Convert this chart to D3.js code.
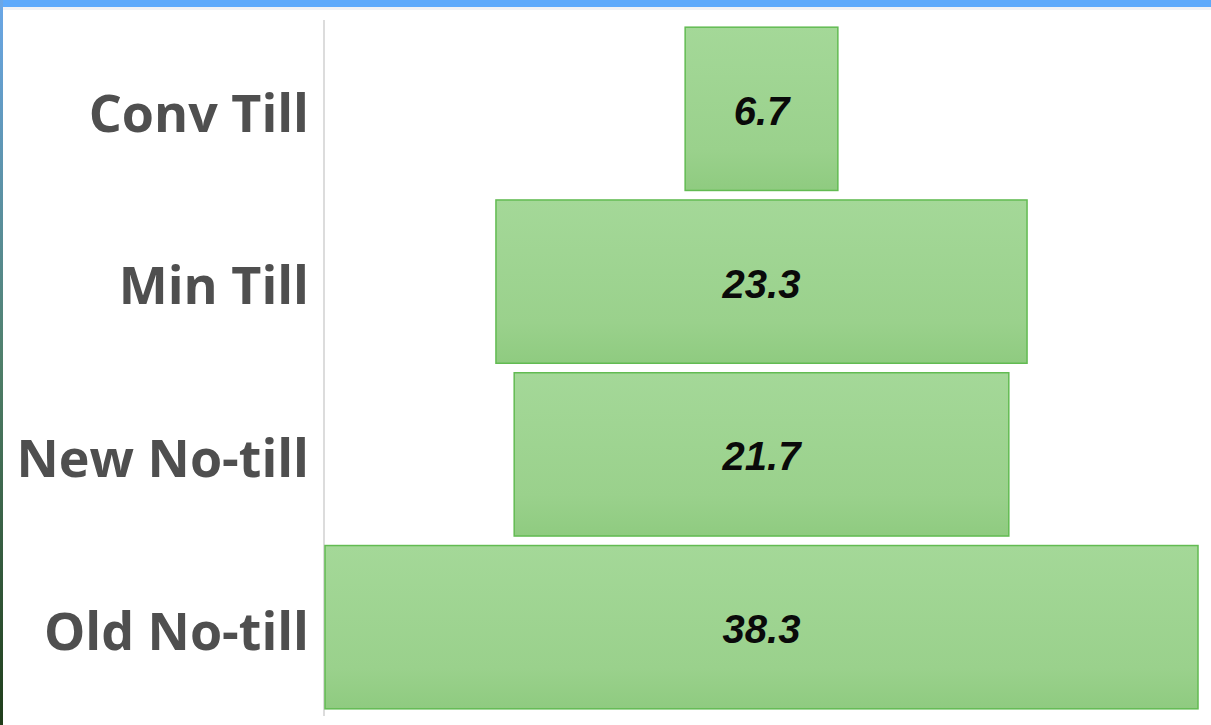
<!DOCTYPE html>
<html>
<head>
<script src="https://d3js.org/d3.v7.min.js"></script>
<style>
    body { margin: 0; padding: 0; background: #fff; }
    svg { display: block; }
</style>
</head>
<body>
<div id="chart"></div>
<script>
    // tillage systems, top to bottom
    let categories = ["Conv Till", "Min Till", "New No-till", "Old No-till"];
    let values = [6.7, 23.3, 21.7, 38.3];
    let valueLabels = ["6.7", "23.3", "21.7", "38.3"];

    let width = 1211, height = 725;

    let svg = d3.select("#chart").append("svg")
        .attr("width", width)
        .attr("height", height);

    let defs = svg.append("defs");
    let grad = defs.append("linearGradient").attr("id", "barFill")
        .attr("x1", 0).attr("y1", 0).attr("x2", 0).attr("y2", 1);
    grad.append("stop").attr("offset", "0%").attr("stop-color", "#a4d898");
    grad.append("stop").attr("offset", "75%").attr("stop-color", "#9ad18c");
    grad.append("stop").attr("offset", "100%").attr("stop-color", "#8fcb80");

    // frame: blue strip on top and a thin edge on the left
    svg.append("rect").attr("x", 0).attr("y", 0).attr("width", width).attr("height", 7)
        .attr("fill", "#5eaafb");
    svg.append("rect").attr("x", 0).attr("y", 7).attr("width", width).attr("height", 3)
        .attr("fill", "#f0f2f5");
    let edge = defs.append("linearGradient").attr("id", "edge")
        .attr("x1", 0).attr("y1", 0).attr("x2", 0).attr("y2", 1);
    edge.append("stop").attr("offset", "0%").attr("stop-color", "#6aa7e8");
    edge.append("stop").attr("offset", "50%").attr("stop-color", "#4f7f6a");
    edge.append("stop").attr("offset", "100%").attr("stop-color", "#1f3d1a");
    svg.append("rect").attr("x", 0).attr("y", 0).attr("width", 3).attr("height", height)
        .attr("fill", "url(#edge)");

    let y = d3.scaleBand()
        .domain(categories)
        .range([22, 714])
        .paddingInner(0.055)
        .paddingOuter(0.03);

    let maxVal = d3.max(values);
    let x = d3.scaleLinear()
        .domain([-maxVal / 2, maxVal / 2])
        .range([325, 1198]);

    // vertical axis line
    svg.append("line")
        .attr("x1", 324).attr("x2", 324)
        .attr("y1", 20).attr("y2", 716)
        .attr("stroke", "#dcdcdc")
        .attr("stroke-width", 2);

    let data = categories.map(function (c, i) {
        return {cat: c, val: values[i], label: valueLabels[i]};
    });

    svg.selectAll(".bar")
        .data(data)
        .enter().append("rect")
        .attr("class", "bar")
        .attr("x", function (d) { return x(-d.val / 2); })
        .attr("width", function (d) { return x(d.val / 2) - x(-d.val / 2); })
        .attr("y", function (d) { return y(d.cat); })
        .attr("height", y.bandwidth())
        .attr("fill", "url(#barFill)")
        .attr("stroke", "#62bb52")
        .attr("stroke-width", 1.5);

    svg.selectAll(".val")
        .data(data)
        .enter().append("text")
        .attr("class", "val")
        .attr("x", x(0))
        .attr("y", function (d) { return y(d.cat) + y.bandwidth() / 2; })
        .attr("dy", "0.4em")
        .attr("text-anchor", "middle")
        .style("font-family", "'Liberation Sans', Arial, sans-serif")
        .style("font-weight", "bold")
        .style("font-style", "italic")
        .style("font-size", "40px")
        .style("fill", "#0a0a0a")
        .text(function (d) { return d.label; });

    svg.selectAll(".cat")
        .data(data)
        .enter().append("text")
        .attr("class", "cat")
        .attr("x", 309)
        .attr("y", function (d) { return y(d.cat) + y.bandwidth() / 2; })
        .attr("dy", "0.44em")
        .attr("text-anchor", "end")
        .style("font-family", "'Open Sans', sans-serif")
        .style("font-weight", "bold")
        .style("font-size", "52px")
        .style("fill", "#4f4f4f")
        .text(function (d) { return d.cat; });
</script>
</body>
</html>
